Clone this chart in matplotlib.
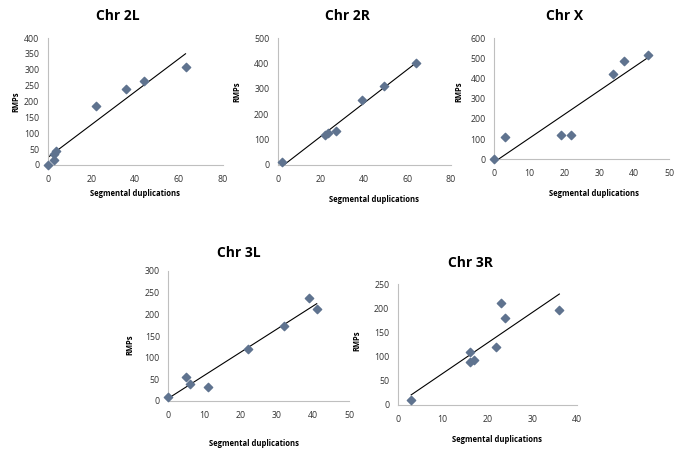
import numpy as np
import matplotlib
matplotlib.use("Agg")
import matplotlib.pyplot as plt

plt.rcParams['font.family'] = ['Open Sans', 'DejaVu Sans']

# 各染色体数据 (Segmental duplications vs RMPs)
titles = ["Chr 2L", "Chr 2R", "Chr X", "Chr 3L", "Chr 3R"]

x_2L = [0, 3, 3, 4, 22, 36, 44, 63]
y_2L = [0, 15, 35, 45, 187, 240, 265, 308]

x_2R = [2, 22, 23, 27, 39, 49, 64]
y_2R = [12, 118, 127, 132, 255, 312, 403]

x_X = [0, 3, 19, 22, 34, 37, 44]
y_X = [0, 110, 120, 120, 425, 488, 518]

x_3L = [0, 5, 6, 11, 22, 32, 39, 41]
y_3L = [10, 55, 40, 32, 120, 173, 238, 212]

x_3R = [3, 16, 16, 17, 22, 23, 24, 36]
y_3R = [10, 110, 88, 93, 119, 210, 180, 197]

xlims = [80, 80, 50, 50, 40]
ylims = [400, 500, 600, 300, 250]
xsteps = [20, 20, 10, 10, 10]
ysteps = [50, 100, 100, 50, 50]

W, H = 685, 463
fig = plt.figure(figsize=(W / 100, H / 100), dpi=100)

# 轴位置 (像素): left, right, bottom, top
boxes = [(47.7, 222.7, 165, 38), (277.7, 451, 165, 38), (494.3, 669.3, 159.3, 38.3),
         (168.3, 349.3, 401, 271), (397.7, 577.3, 405, 284)]
# 标题/标签位置 (像素)
title_pos = [(118, 16), (347, 16), (565, 16), (239, 253), (470, 263)]
xlab_pos = [(135, 193), (374, 199), (594, 193), (254, 443), (497, 440)]
ylab_pos = [(16, 102), (237, 92), (459, 92), (130, 345), (357, 341)]

data = [(x_2L, y_2L), (x_2R, y_2R), (x_X, y_X), (x_3L, y_3L), (x_3R, y_3R)]

for i, (xs, ys) in enumerate(data):
    l, r, b, t = boxes[i]
    ax = fig.add_axes([l / W, 1 - b / H, (r - l) / W, (b - t) / H])
    ax.scatter(xs, ys, marker='D', s=18, color='#5F738F', zorder=3, clip_on=False)
    # 线性趋势线
    k, c = np.polyfit(xs, ys, 1)
    xx = np.array([min(xs), max(xs)])
    ax.plot(xx, k * xx + c, color='black', lw=0.8, zorder=2)
    ax.set_xlim(0, xlims[i])
    ax.set_ylim(0, ylims[i])
    ax.set_xticks(np.arange(0, xlims[i] + 1, xsteps[i]))
    ax.set_yticks(np.arange(0, ylims[i] + 1, ysteps[i]))
    for s in ['top', 'right']:
        ax.spines[s].set_visible(False)
    for s in ['left', 'bottom']:
        ax.spines[s].set_color('#BFBFBF')
        ax.spines[s].set_linewidth(0.8)
    ax.tick_params(length=0, labelsize=6.3, colors='#333333')
    ax.tick_params(axis='y', pad=6)
    ax.tick_params(axis='x', pad=7)

    fig.text(title_pos[i][0] / W, 1 - title_pos[i][1] / H, titles[i],
             ha='center', va='center', fontsize=10, fontweight='bold')
    fig.text(xlab_pos[i][0] / W, 1 - xlab_pos[i][1] / H, "Segmental duplications",
             ha='center', va='center', fontsize=5.5, fontweight='bold')
    fig.text(ylab_pos[i][0] / W, 1 - ylab_pos[i][1] / H, "RMPs", rotation=90,
             ha='center', va='center', fontsize=5.5, fontweight='bold')

fig.savefig("out.png", dpi=100)
